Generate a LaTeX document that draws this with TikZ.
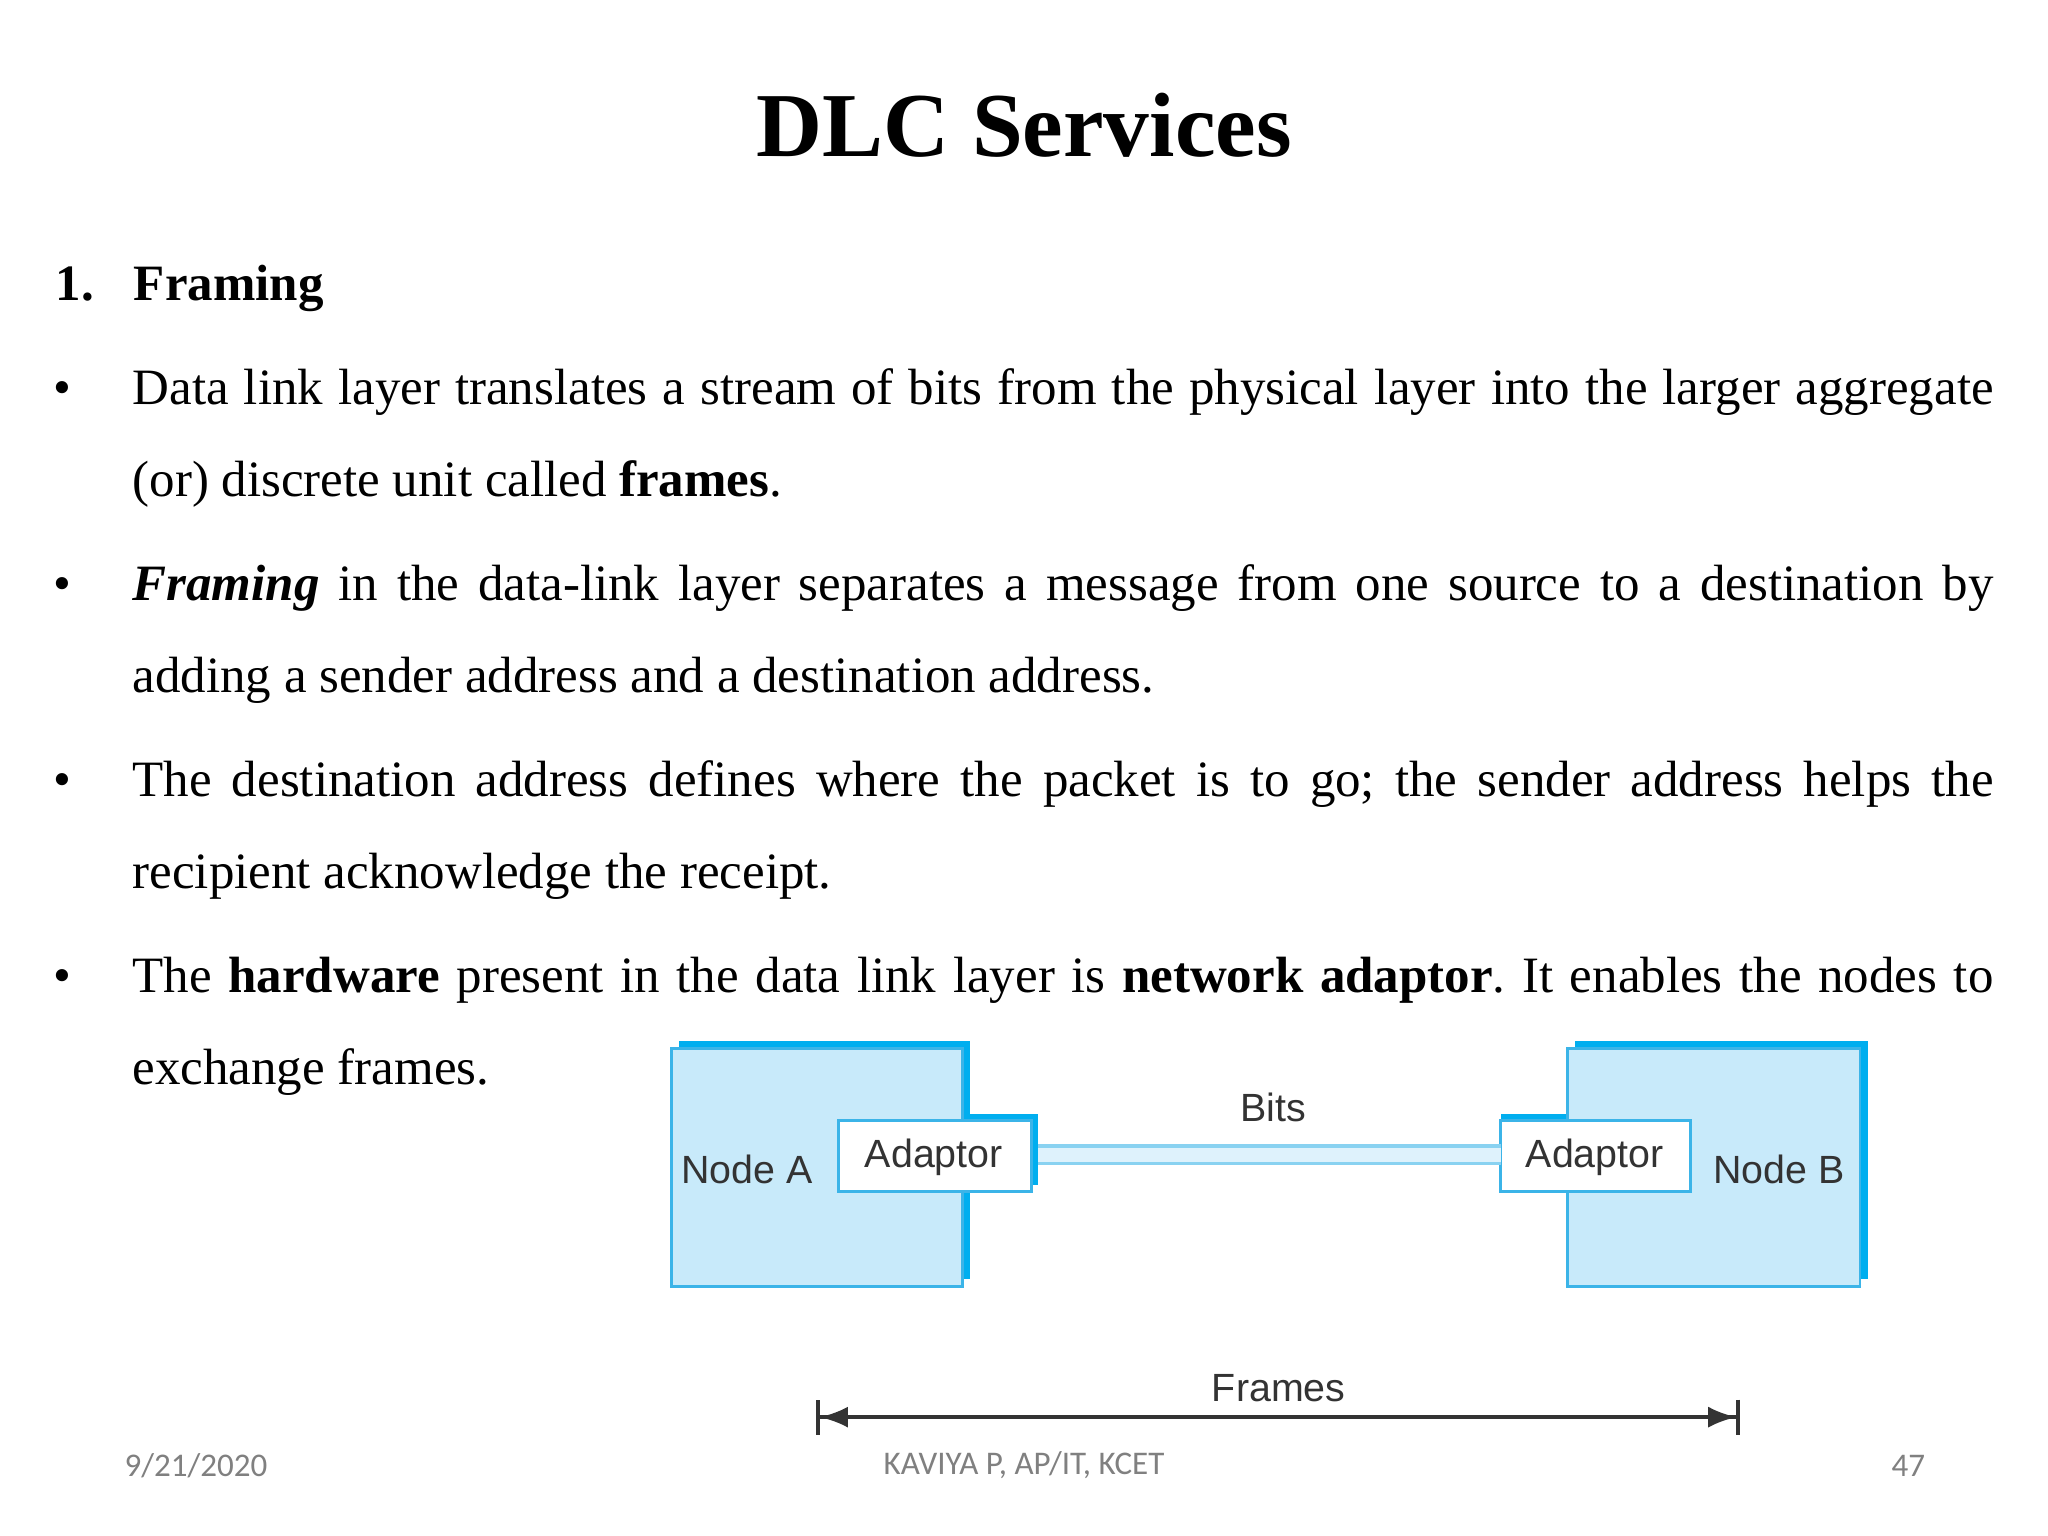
\documentclass[tikz,border=0pt]{standalone}
\usepackage{fontspec}
\setmainfont{Liberation Serif}
\newfontfamily\diag{Liberation Sans}
\newfontfamily\foot{Carlito}
\usetikzlibrary{arrows.meta}
\definecolor{dblue}{HTML}{00AEEF}
\definecolor{lblue}{HTML}{C8EAFA}
\definecolor{eblue}{HTML}{3BB4E8}
\definecolor{txt}{HTML}{333333}
\frenchspacing
\tikzset{
 body/.style={anchor=base west,inner sep=0pt,font=\fontsize{14.5}{16}\selectfont},
 bul/.style={anchor=base,inner sep=0pt,font=\fontsize{14.5}{16}\selectfont},
 nodebox/.style={fill=lblue,draw=eblue,line width=0.8pt},
 adbox/.style={fill=white,draw=eblue,line width=0.8pt},
 shad/.style={fill=dblue,draw=none},
 dlab/.style={inner sep=0pt,text=txt,font=\diag\fontsize{11.2}{13}\selectfont},
 flab/.style={inner sep=0pt,text=gray,font=\foot\fontsize{9.4}{11}\selectfont}
}
\newcommand{\jl}[1]{\makebox[18.61cm][s]{#1}}
\begin{document}
\begin{tikzpicture}[x=0.01306cm,y=-0.01306cm]
\useasboundingbox[fill=white] (0,0) rectangle (1568,1176);
\node[anchor=base,inner sep=0pt,font=\fontsize{26}{30}\selectfont\bfseries] (title) at (784,120) {DLC Services};
\node[body] (h1) at (42,230) {\textbf{1.}};
\node[body] (h2) at (102,230) {\textbf{Framing}};
\foreach \y in {310,460,610,760} \node[bul] at (48,\y) {•};
\node[body] (l1) at (101,310) {\jl{Data link layer translates a stream of bits from the physical layer into the larger aggregate}};
\node[body] (l2) at (101,380) {(or) discrete unit called \textbf{frames}.};
\node[body] (l3) at (101,460) {\jl{\textbf{\textit{Framing}} in the data-link layer separates a message from one source to a destination by}};
\node[body] (l4) at (101,530) {adding a sender address and a destination address.};
\node[body] (l5) at (101,610) {\jl{The destination address defines where the packet is to go; the sender address helps the}};
\node[body] (l6) at (101,680) {recipient acknowledge the receipt.};
\node[body] (l7) at (101,760) {\jl{The \textbf{hardware} present in the data link layer is \textbf{network adaptor}. It enables the nodes to}};
\node[body] (l8) at (101,830) {exchange frames.};
% diagram
\fill[shad] (520,797) rectangle (743,979);
\fill[shad] (648,853) rectangle (795,907);
\fill[shad] (1206,797) rectangle (1430,979);
\fill[shad] (1149,853) rectangle (1300,907);
\draw[nodebox] (514,803) rectangle (737,985);
\draw[adbox] (642,858) rectangle (790,912);
\draw[nodebox] (1200,803) rectangle (1424,985);
\draw[adbox] (1149,858) rectangle (1294,912);
\coordinate (ba) at (795,884);
\coordinate (bb) at (1149,884);
\draw[eblue!60,double=lblue!60,line width=0.9pt,double distance=4pt] (ba) -- (bb);
\node[dlab] (na) at (572,895) {Node A};
\node[dlab] (aa) at (715,886) {Adaptor};
\node[dlab] (ab) at (1221,886) {Adaptor};
\node[dlab] (nb) at (1362,895) {Node B};
\node[dlab] (bits) at (975,848) {Bits};
\node[dlab] (fr) at (979,1063) {Frames};
\coordinate (fa) at (625,1085);
\coordinate (fb) at (1332,1085);
\draw[txt,line width=1pt,{Bar[width=10pt]Latex[length=8pt]}-{Latex[length=8pt]Bar[width=10pt]}] (fa) -- (fb);
% footer
\node[flab] (d) at (150,1122) {9/21/2020};
\node[flab] (k) at (784,1122) {KAVIYA P, AP/IT, KCET};
\node[flab] (p) at (1461,1122) {47};
\end{tikzpicture}
\end{document}
